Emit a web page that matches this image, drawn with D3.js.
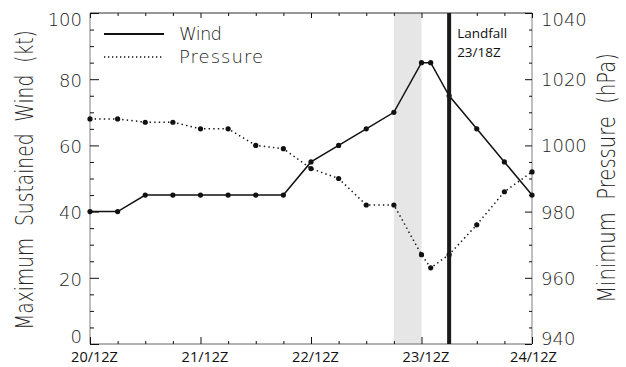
<!DOCTYPE html>
<html>
<head>
<meta charset="utf-8">
<script src="https://cdn.jsdelivr.net/npm/d3@7"></script>
<style>
  html, body { margin: 0; padding: 0; background: #fff; }
  .thin { font-family: "DejaVu Sans", sans-serif; font-weight: 200; fill: #222; }
  .cond { font-family: "Open Sans", "Noto Sans", sans-serif; fill: #111; }
</style>
</head>
<body>
<svg id="chart" width="626" height="367"></svg>
<script>
// Best-track times (day/hourZ), 6-hourly plus a special 14Z fix
const times = ["20/12Z","20/18Z","21/00Z","21/06Z","21/12Z","21/18Z","22/00Z","22/06Z",
               "22/12Z","22/18Z","23/00Z","23/06Z","23/12Z","23/14Z","23/18Z","24/00Z","24/06Z","24/12Z"];
const wind = [40,40,45,45,45,45,45,45,55,60,65,70,85,85,75,65,55,45];           // kt
const pressure = [1008,1008,1007,1007,1005,1005,1000,999,993,990,982,982,967,963,967,976,986,992]; // hPa

const xTickLabels = ["20/12Z","21/12Z","22/12Z","23/12Z","24/12Z"];
const windTicks = [0,20,40,60,80,100];
const pressureTicks = [940,960,980,1000,1020,1040];
const shadedPeriod = ["23/06Z","23/12Z"];
const landfallTime = "23/18Z";
const legendLabels = ["Wind","Pressure"];

// hours after 20/12Z
const toHours = s => { const [d, h] = s.replace("Z","").split("/").map(Number); return (d - 20) * 24 + h - 12; };

const W = 626, H = 367;
const m = {left: 90, right: 94, top: 13, bottom: 23};
const svg = d3.select("#chart");

const x = d3.scaleLinear().domain([toHours(xTickLabels[0]), toHours(xTickLabels[xTickLabels.length-1])]).range([m.left, W - m.right]);
const yL = d3.scaleLinear().domain([0, 100]).range([H - m.bottom, m.top]);
const yR = d3.scaleLinear().domain([940, 1040]).range([H - m.bottom, m.top]);

const pts = times.map((t, i) => ({h: toHours(t), w: wind[i], p: pressure[i]}));

// shaded period
svg.append("rect")
  .attr("x", x(toHours(shadedPeriod[0])))
  .attr("width", x(toHours(shadedPeriod[1])) - x(toHours(shadedPeriod[0])))
  .attr("y", m.top).attr("height", H - m.bottom - m.top)
  .attr("fill", "#e6e6e6");

// frame
const x0 = m.left, x1 = W - m.right, y0 = H - m.bottom, y1 = m.top;
svg.append("line").attr("x1", x0).attr("x2", x1).attr("y1", y1).attr("y2", y1).attr("stroke", "#333").attr("stroke-width", 1);
svg.append("line").attr("x1", x0).attr("x2", x1).attr("y1", y0).attr("y2", y0).attr("stroke", "#999").attr("stroke-width", 1.5);
svg.append("line").attr("x1", x0).attr("x2", x0).attr("y1", y1).attr("y2", y0).attr("stroke", "#aaa").attr("stroke-width", 1.5);
svg.append("line").attr("x1", x1).attr("x2", x1).attr("y1", y1).attr("y2", y0).attr("stroke", "#aaa").attr("stroke-width", 1.5);

function styleAxis(g) {
  g.select(".domain").remove();
  g.selectAll(".tick line").attr("stroke", "#111").attr("stroke-width", 1);
}

const sixHourly = d3.range(0, 97, 6);
const minorX = sixHourly.filter(h => h % 24 !== 0);
const majorX = xTickLabels.map(toHours);

// bottom axis
svg.append("g").attr("transform", `translate(0,${y0})`)
  .call(d3.axisBottom(x).tickValues(minorX).tickSize(-3).tickFormat("")).call(styleAxis);
const bx = svg.append("g").attr("transform", `translate(0,${y0})`)
  .call(d3.axisBottom(x).tickValues(majorX).tickSize(-7).tickPadding(8)
    .tickFormat((d, i) => xTickLabels[i])).call(styleAxis);
bx.selectAll(".tick text").attr("class", "cond").attr("font-size", 14.5)
  .attr("dx", d => d === majorX[majorX.length-1] ? 1 : 4).attr("fill", "#111");

// top axis
svg.append("g").attr("transform", `translate(0,${y1})`)
  .call(d3.axisTop(x).tickValues(minorX).tickSize(-3).tickFormat("")).call(styleAxis);
svg.append("g").attr("transform", `translate(0,${y1})`)
  .call(d3.axisTop(x).tickValues(majorX).tickSize(-5).tickFormat("")).call(styleAxis);

// left axis
const minorW = d3.range(0, 101, 5).filter(v => v % 20 !== 0);
svg.append("g").attr("transform", `translate(${x0},0)`)
  .call(d3.axisLeft(yL).tickValues(minorW).tickSize(-4).tickFormat("")).call(styleAxis);
const lg = svg.append("g").attr("transform", `translate(${x0},0)`)
  .call(d3.axisLeft(yL).tickValues(windTicks).tickSize(-9).tickPadding(8).tickFormat(d3.format("d"))).call(styleAxis);
lg.selectAll(".tick text").attr("class", "thin").attr("font-size", 18)
  .attr("dy", d => d === 100 ? "0.72em" : d === 0 ? "-0.06em" : "0.4em");

// right axis
const minorP = d3.range(940, 1041, 5).filter(v => v % 20 !== 0);
svg.append("g").attr("transform", `translate(${x1},0)`)
  .call(d3.axisRight(yR).tickValues(minorP).tickSize(-3).tickFormat("")).call(styleAxis);
const rg = svg.append("g").attr("transform", `translate(${x1},0)`)
  .call(d3.axisRight(yR).tickValues(pressureTicks).tickSize(-7).tickPadding(9).tickFormat(d3.format("d"))).call(styleAxis);
rg.selectAll(".tick text").attr("class", "thin").attr("font-size", 18)
  .attr("dy", d => d === 1040 ? "0.72em" : d === 940 ? "0.0em" : "0.36em");

// axis titles: tall glyphs, condensed along the text direction
function sideTitle(label, baseX, centerY, span) {
  const t = svg.append("text").attr("class", "thin").attr("font-size", 25)
    .attr("text-anchor", "middle").style("white-space", "pre").text(label);
  const len = t.node().getComputedTextLength();
  t.attr("transform", `translate(${baseX},${centerY}) rotate(-90) scale(${span / len},1)`);
}
sideTitle("Maximum  Sustained  Wind  (kt)", 33, 180, 300);
sideTitle("Minimum  Pressure  (hPa)", 615, 178, 250);

// series
const windLine = d3.line().x(d => x(d.h)).y(d => yL(d.w));
const presLine = d3.line().x(d => x(d.h)).y(d => yR(d.p));

svg.append("path").datum(pts).attr("d", presLine)
  .attr("fill", "none").attr("stroke", "#111").attr("stroke-width", 1.5)
  .attr("stroke-dasharray", "1.4,3.2");
svg.append("path").datum(pts).attr("d", windLine)
  .attr("fill", "none").attr("stroke", "#111").attr("stroke-width", 1.5);

svg.append("g").selectAll("circle").data(pts).join("circle")
  .attr("cx", d => x(d.h)).attr("cy", d => yR(d.p)).attr("r", 2.6).attr("fill", "#111");
svg.append("g").selectAll("circle").data(pts).join("circle")
  .attr("cx", d => x(d.h)).attr("cy", d => yL(d.w)).attr("r", 2.6).attr("fill", "#111");

// landfall marker
const xl = x(toHours(landfallTime));
svg.append("line").attr("x1", xl).attr("x2", xl).attr("y1", y1).attr("y2", y0)
  .attr("stroke", "#1a1a1a").attr("stroke-width", 4);
const lt = svg.append("text").attr("class", "cond").attr("font-size", 13.5).attr("x", xl + 8);
lt.append("tspan").attr("x", xl + 8).attr("y", 38).text("Landfall");
lt.append("tspan").attr("x", xl + 8).attr("y", 57).text(landfallTime);

// legend
svg.append("line").attr("x1", 104).attr("x2", 164).attr("y1", 34).attr("y2", 34)
  .attr("stroke", "#111").attr("stroke-width", 2);
svg.append("line").attr("x1", 104).attr("x2", 164).attr("y1", 57).attr("y2", 57)
  .attr("stroke", "#111").attr("stroke-width", 1.3).attr("stroke-dasharray", "1.3,2.7");
svg.append("text").attr("class", "thin").attr("font-size", 18).attr("x", 179).attr("y", 40)
  .attr("textLength", 43).attr("lengthAdjust", "spacing").text(legendLabels[0]);
svg.append("text").attr("class", "thin").attr("font-size", 18).attr("x", 179).attr("y", 63)
  .attr("textLength", 84).attr("lengthAdjust", "spacing").text(legendLabels[1]);
</script>
</body>
</html>
